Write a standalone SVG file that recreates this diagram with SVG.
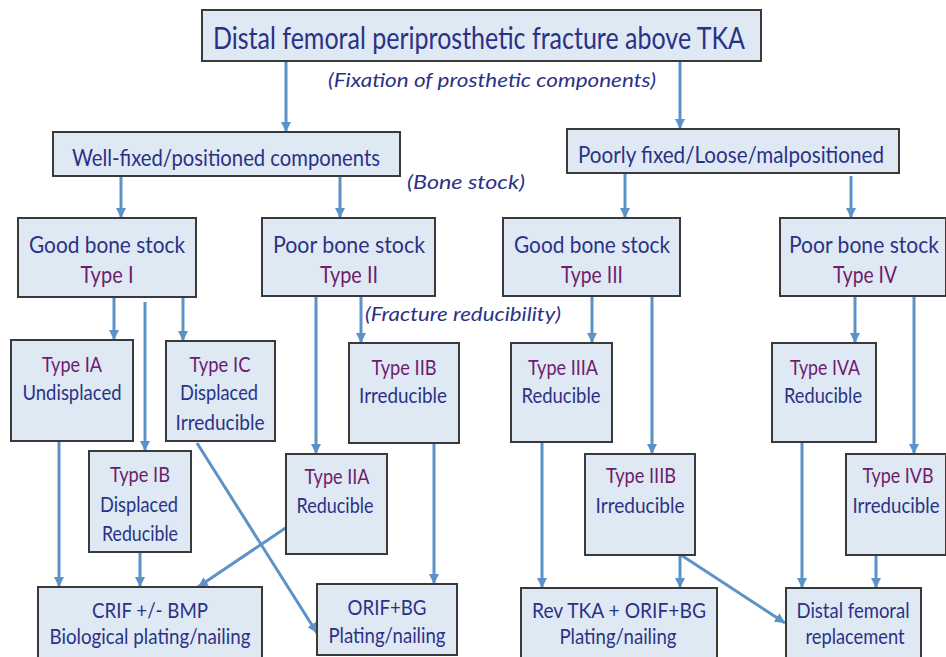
<svg xmlns="http://www.w3.org/2000/svg" width="946" height="657" viewBox="0 0 946 657">
<style>
.bx{fill:#dfe9f4;stroke:#3a3a3a;stroke-width:2}
text{font-family:Lato,"Liberation Sans",sans-serif;text-anchor:middle;fill:#2b3286}
.t{font-size:30px}
.m{font-size:23px}
.s{font-size:21px}
.p{fill:#6e1c6e}
.i{font-size:20px;font-style:italic}
.c line{stroke:#5b92c8;stroke-width:3;marker-end:url(#ah)}
</style>
<defs>
<marker id="ah" markerUnits="userSpaceOnUse" markerWidth="12" markerHeight="10" refX="10" refY="5" orient="auto" viewBox="0 0 12 10">
<path d="M0,0 L10,5 L0,10 Z" fill="#5b92c8"/>
</marker>
</defs>
<rect width="946" height="657" fill="#ffffff"/>
<g class="c" id="connectors">
<line x1="286" y1="61" x2="286" y2="132"/>
<line x1="680" y1="61" x2="680" y2="129"/>
<line x1="121" y1="176" x2="121" y2="218"/>
<line x1="340" y1="176" x2="340" y2="218"/>
<line x1="625" y1="170" x2="625" y2="218"/>
<line x1="851" y1="176" x2="851" y2="218"/>
<line x1="114" y1="297" x2="114" y2="340"/>
<line x1="145" y1="302" x2="145" y2="451"/>
<line x1="183" y1="297" x2="183" y2="341"/>
<line x1="316" y1="296" x2="316" y2="454"/>
<line x1="361" y1="296" x2="361" y2="343"/>
<line x1="592" y1="296" x2="592" y2="343"/>
<line x1="652" y1="296" x2="652" y2="454"/>
<line x1="855" y1="296" x2="855" y2="343"/>
<line x1="914" y1="296" x2="914" y2="454"/>
<line x1="59" y1="441" x2="59" y2="587"/>
<line x1="140" y1="552" x2="140" y2="587"/>
<line x1="287" y1="527" x2="198" y2="587"/>
<line x1="197" y1="443" x2="317" y2="633"/>
<line x1="434" y1="443" x2="434" y2="584"/>
<line x1="542" y1="442" x2="542" y2="588"/>
<line x1="680" y1="555" x2="680" y2="588"/>
<line x1="681" y1="555" x2="785" y2="623"/>
<line x1="802" y1="442" x2="802" y2="588"/>
<line x1="876" y1="555" x2="876" y2="588"/>
</g>
<g id="root"><rect class="bx" x="202" y="10" width="559" height="51"/>
<text class="t" x="479" y="49" textLength="532" lengthAdjust="spacingAndGlyphs">Distal femoral periprosthetic fracture above TKA</text></g>
<g id="lbl-fix"><text class="i" x="492" y="87" textLength="328" lengthAdjust="spacingAndGlyphs">(Fixation of prosthetic components)</text></g>
<g id="wellfixed"><rect class="bx" x="53" y="132" width="347" height="44"/>
<text class="m" x="226" y="166" textLength="308" lengthAdjust="spacingAndGlyphs">Well-fixed/positioned components</text></g>
<g id="poorly"><rect class="bx" x="567" y="129" width="332" height="44"/>
<text class="m" x="731" y="163" textLength="306" lengthAdjust="spacingAndGlyphs">Poorly fixed/Loose/malpositioned</text></g>
<g id="lbl-bone"><text class="i" x="466" y="189" textLength="118" lengthAdjust="spacingAndGlyphs">(Bone stock)</text></g>
<g id="type1"><rect class="bx" x="18" y="218" width="178" height="79"/>
<text class="m" x="107" y="253" textLength="156" lengthAdjust="spacingAndGlyphs">Good bone stock</text>
<text class="m p" x="107" y="283" textLength="53" lengthAdjust="spacingAndGlyphs">Type I</text></g>
<g id="type2"><rect class="bx" x="262" y="218" width="173" height="78"/>
<text class="m" x="349" y="253" textLength="152" lengthAdjust="spacingAndGlyphs">Poor bone stock</text>
<text class="m p" x="349" y="283" textLength="58" lengthAdjust="spacingAndGlyphs">Type II</text></g>
<g id="type3"><rect class="bx" x="503" y="218" width="177" height="78"/>
<text class="m" x="592" y="253" textLength="156" lengthAdjust="spacingAndGlyphs">Good bone stock</text>
<text class="m p" x="592" y="283" textLength="62" lengthAdjust="spacingAndGlyphs">Type III</text></g>
<g id="type4"><rect class="bx" x="780" y="218" width="166" height="78"/>
<text class="m" x="864" y="253" textLength="150" lengthAdjust="spacingAndGlyphs">Poor bone stock</text>
<text class="m p" x="865" y="283" textLength="64" lengthAdjust="spacingAndGlyphs">Type IV</text></g>
<g id="lbl-red"><text class="i" x="463" y="321" textLength="196" lengthAdjust="spacingAndGlyphs">(Fracture reducibility)</text></g>
<g id="type1a"><rect class="bx" x="11" y="340" width="122" height="101"/>
<text class="s p" x="72" y="372" textLength="60" lengthAdjust="spacingAndGlyphs">Type IA</text>
<text class="s" x="72" y="400" textLength="99" lengthAdjust="spacingAndGlyphs">Undisplaced</text></g>
<g id="type1c"><rect class="bx" x="166" y="341" width="109" height="100"/>
<text class="s p" x="220" y="372" textLength="61" lengthAdjust="spacingAndGlyphs">Type IC</text>
<text class="s" x="219" y="400" textLength="78" lengthAdjust="spacingAndGlyphs">Displaced</text>
<text class="s" x="220" y="430" textLength="89" lengthAdjust="spacingAndGlyphs">Irreducible</text></g>
<g id="type2b"><rect class="bx" x="349" y="343" width="110" height="100"/>
<text class="s p" x="404" y="375" textLength="65" lengthAdjust="spacingAndGlyphs">Type IIB</text>
<text class="s" x="403" y="403" textLength="88" lengthAdjust="spacingAndGlyphs">Irreducible</text></g>
<g id="type3a"><rect class="bx" x="511" y="343" width="101" height="99"/>
<text class="s p" x="563" y="375" textLength="70" lengthAdjust="spacingAndGlyphs">Type IIIA</text>
<text class="s" x="561" y="403" textLength="79" lengthAdjust="spacingAndGlyphs">Reducible</text></g>
<g id="type4a"><rect class="bx" x="772" y="343" width="104" height="99"/>
<text class="s p" x="825" y="375" textLength="70" lengthAdjust="spacingAndGlyphs">Type IVA</text>
<text class="s" x="823" y="403" textLength="78" lengthAdjust="spacingAndGlyphs">Reducible</text></g>
<g id="type1b"><rect class="bx" x="89" y="451" width="102" height="101"/>
<text class="s p" x="140" y="482" textLength="60" lengthAdjust="spacingAndGlyphs">Type IB</text>
<text class="s" x="139" y="512" textLength="78" lengthAdjust="spacingAndGlyphs">Displaced</text>
<text class="s" x="140" y="541" textLength="76" lengthAdjust="spacingAndGlyphs">Reducible</text></g>
<g id="type2a"><rect class="bx" x="286" y="454" width="101" height="100"/>
<text class="s p" x="337" y="484" textLength="65" lengthAdjust="spacingAndGlyphs">Type IIA</text>
<text class="s" x="335" y="513" textLength="77" lengthAdjust="spacingAndGlyphs">Reducible</text></g>
<g id="type3b"><rect class="bx" x="585" y="454" width="110" height="101"/>
<text class="s p" x="641" y="483" textLength="70" lengthAdjust="spacingAndGlyphs">Type IIIB</text>
<text class="s" x="640" y="513" textLength="89" lengthAdjust="spacingAndGlyphs">Irreducible</text></g>
<g id="type4b"><rect class="bx" x="846" y="454" width="100" height="101"/>
<text class="s p" x="898" y="483" textLength="71" lengthAdjust="spacingAndGlyphs">Type IVB</text>
<text class="s" x="896" y="513" textLength="87" lengthAdjust="spacingAndGlyphs">Irreducible</text></g>
<g id="crif"><rect class="bx" x="38" y="587" width="224" height="80"/>
<text class="s" x="150" y="618" textLength="116" lengthAdjust="spacingAndGlyphs">CRIF +/- BMP</text>
<text class="s" x="150" y="644" textLength="201" lengthAdjust="spacingAndGlyphs">Biological plating/nailing</text></g>
<g id="orif"><rect class="bx" x="317" y="584" width="140" height="71"/>
<text class="s" x="387" y="615" textLength="79" lengthAdjust="spacingAndGlyphs">ORIF+BG</text>
<text class="s" x="387" y="643" textLength="117" lengthAdjust="spacingAndGlyphs">Plating/nailing</text></g>
<g id="revtka"><rect class="bx" x="521" y="588" width="196" height="80"/>
<text class="s" x="619" y="618" textLength="174" lengthAdjust="spacingAndGlyphs">Rev TKA + ORIF+BG</text>
<text class="s" x="618" y="644" textLength="117" lengthAdjust="spacingAndGlyphs">Plating/nailing</text></g>
<g id="dfr"><rect class="bx" x="786" y="588" width="135" height="80"/>
<text class="s" x="853" y="618" textLength="113" lengthAdjust="spacingAndGlyphs">Distal femoral</text>
<text class="s" x="855" y="644" textLength="99" lengthAdjust="spacingAndGlyphs">replacement</text></g>
</svg>
